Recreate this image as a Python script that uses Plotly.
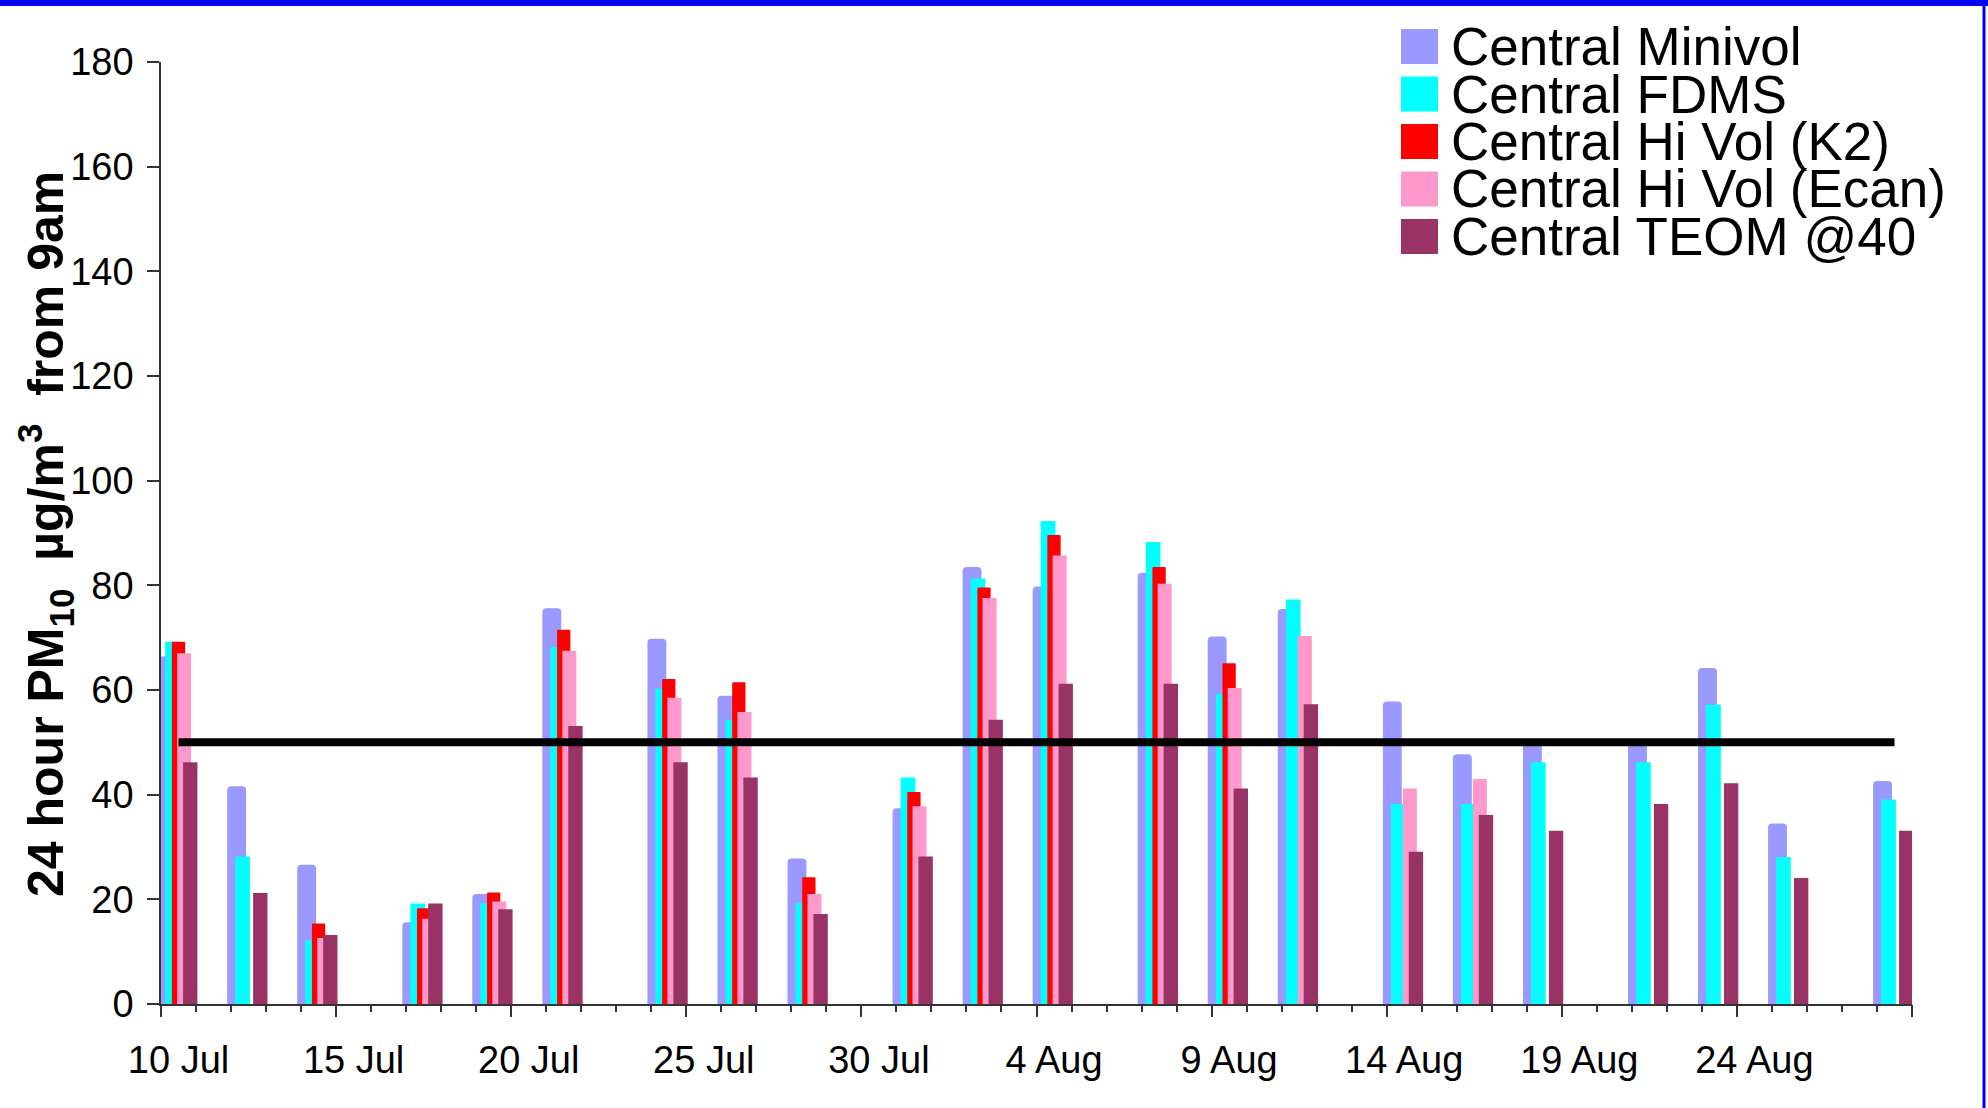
import plotly.graph_objects as go

# ---------------- data ----------------
# one category per day (Excel-style date category axis)
day_labels = [f"{d} Jul" for d in range(10, 32)] + [f"{d} Aug" for d in range(1, 29)]
tick_labels = ["10 Jul", "15 Jul", "20 Jul", "25 Jul", "30 Jul",
               "4 Aug", "9 Aug", "14 Aug", "19 Aug", "24 Aug"]

sample_dates = ["10 Jul", "12 Jul", "14 Jul", "17 Jul", "19 Jul", "21 Jul", "24 Jul",
                "26 Jul", "28 Jul", "31 Jul", "2 Aug", "4 Aug", "7 Aug", "9 Aug",
                "11 Aug", "14 Aug", "16 Aug", "18 Aug", "21 Aug", "23 Aug", "25 Aug",
                "28 Aug"]

minivol = [66.4, 41.6, 26.6, 15.6, 21.0, 75.6, 69.8, 58.9, 27.8, 37.4, 83.5,
           79.8, 82.4, 70.2, 75.5, 57.8, 47.7, 50.0, 50.0, 64.2, 34.5, 42.6]
fdms = [69.2, 28.2, 12.2, 19.2, 19.3, 68.2, 60.3, 54.3, 19.3, 43.3, 81.3,
        92.3, 88.3, 59.3, 77.3, 38.2, 38.2, 46.2, 46.2, 57.2, 28.1, 39.1]
hivol_k2 = [69.2, None, 15.4, 18.3, 21.3, 71.5, 62.1, 61.5, 24.2, 40.5, 79.6,
            89.6, 83.5, 65.1, None, None, None, None, None, None, None, None]
hivol_ecan = [67.0, None, 12.6, 16.3, 19.6, 67.5, 58.5, 55.8, 21.0, 37.8, 77.6,
              85.7, 80.3, 60.4, 70.3, 41.2, 43.0, None, None, None, None, None]
teom = [46.2, 21.2, 13.2, 19.2, 18.1, 53.1, 46.2, 43.3, 17.2, 28.2, 54.3,
        61.2, 61.2, 41.2, 57.3, 29.1, 36.1, 33.1, 38.2, 42.2, 24.1, 33.1]

series_names = ["Central Minivol", "Central FDMS", "Central Hi Vol (K2)",
                "Central Hi Vol (Ecan)", "Central TEOM @40"]
limit_value = 50
limit_span = ["10 Jul", "28 Aug"]
y_ticks = [0, 20, 40, 60, 80, 100, 120, 140, 160, 180]
y_title = "24 hour PM<sub>10</sub>  µg/m<sup>3</sup>  from 9am"

# ---------------- styles ----------------
colors = ["#9999FF", "#00FFFF", "#FF0000", "#FF99CC", "#993366"]
offsets = [-0.61, -0.38, -0.19, -0.04, 0.13]
widths = [0.54, 0.42, 0.38, 0.40, 0.41]
radii = [4, 0, 1, 0, 0]

W, H = 1988, 1108
L, R, T, B = 161, 76, 62, 104
PW, PH = W - L - R, H - T - B
FONT = "Liberation Sans, Arial, sans-serif"


def px_x(px):
    return (px - L) / PW


def px_y(py):
    return 1 - (py - T) / PH


fig = go.Figure()
for name, vals, col, off, wd, rad in zip(series_names,
                                         [minivol, fdms, hivol_k2, hivol_ecan, teom],
                                         colors, offsets, widths, radii):
    fig.add_trace(go.Bar(
        x=sample_dates, y=vals, name=name, offset=off, width=wd,
        marker=dict(color=col, line=dict(width=0), cornerradius=rad),
        showlegend=False,
    ))

fig.add_trace(go.Scatter(
    x=limit_span, y=[limit_value, limit_value], mode="lines",
    line=dict(color="black", width=8), showlegend=False, hoverinfo="skip",
))
# carrier trace for the tick-mark axis
fig.add_trace(go.Scatter(x=[], y=[], xaxis="x2", showlegend=False, hoverinfo="skip"))

# ---------------- custom legend ----------------
shapes = []
annotations = []
row_y = [46.5, 94, 141.5, 189, 236.5]
for i, (name, col) in enumerate(zip(series_names, colors)):
    cy = row_y[i]
    shapes.append(dict(type="rect", xref="paper", yref="paper",
                       x0=px_x(1401), x1=px_x(1438), y0=px_y(cy + 17.5), y1=px_y(cy - 17.5),
                       fillcolor=col, line=dict(width=0), layer="above"))
    annotations.append(dict(xref="paper", yref="paper", x=px_x(1449), y=px_y(cy),
                            xanchor="left", yanchor="middle", text=name, showarrow=False,
                            font=dict(family=FONT, size=53, color="black")))

# y-axis title (placed as rotated text)
annotations.append(dict(xref="paper", yref="paper", x=px_x(45), y=px_y(534),
                        xanchor="center", yanchor="middle", textangle=-90,
                        text=y_title, showarrow=False,
                        font=dict(family=FONT, size=50, color="black", weight="bold")))

# blue frame pieces
shapes.append(dict(type="rect", xref="paper", yref="paper",
                   x0=px_x(0), x1=px_x(W), y0=px_y(6), y1=px_y(0),
                   fillcolor="#0000FF", line=dict(width=0), layer="above"))
shapes.append(dict(type="rect", xref="paper", yref="paper",
                   x0=px_x(1982.5), x1=px_x(1985.5), y0=px_y(H), y1=px_y(0),
                   fillcolor="#0000FF", line=dict(width=0), layer="above"))

fig.update_layout(
    width=W, height=H,
    margin=dict(l=L, r=R, t=T, b=B, pad=0),
    paper_bgcolor="white", plot_bgcolor="white",
    barmode="overlay",
    font=dict(family=FONT, color="black"),
    xaxis=dict(
        type="category", categoryorder="array", categoryarray=day_labels,
        range=[-0.5, len(day_labels) - 0.5],
        tickmode="array", tickvals=tick_labels, ticktext=tick_labels,
        ticks="", ticklabelstandoff=22,
        tickfont=dict(family=FONT, size=38, color="black"),
        showline=True, linecolor="#333333", linewidth=1.5,
        showgrid=False, zeroline=False, automargin=False,
    ),
    xaxis2=dict(
        overlaying="x", anchor="y", side="bottom",
        range=[-0.5, len(day_labels) - 0.5],
        tickmode="linear", tick0=-0.5, dtick=5,
        ticks="outside", ticklen=12, tickwidth=1.5, tickcolor="#333333",
        showticklabels=False, showline=False, showgrid=False, zeroline=False,
        minor=dict(tickmode="linear", tick0=-0.5, dtick=1, ticks="outside",
                   ticklen=7, tickwidth=1.5, tickcolor="#333333", showgrid=False),
        automargin=False,
    ),
    yaxis=dict(
        range=[0, 180], tickmode="array", tickvals=y_ticks,
        ticks="outside", ticklen=12, tickwidth=1.5, tickcolor="#333333",
        ticklabelstandoff=6,
        tickfont=dict(family=FONT, size=38, color="black"),
        showline=True, linecolor="#333333", linewidth=1.5,
        showgrid=False, zeroline=False, automargin=False,
    ),
    shapes=shapes,
    annotations=annotations,
)

fig.write_html("out.html", config={"displayModeBar": False},
               post_script="document.body.style.margin='0px';document.body.style.overflow='hidden';")
